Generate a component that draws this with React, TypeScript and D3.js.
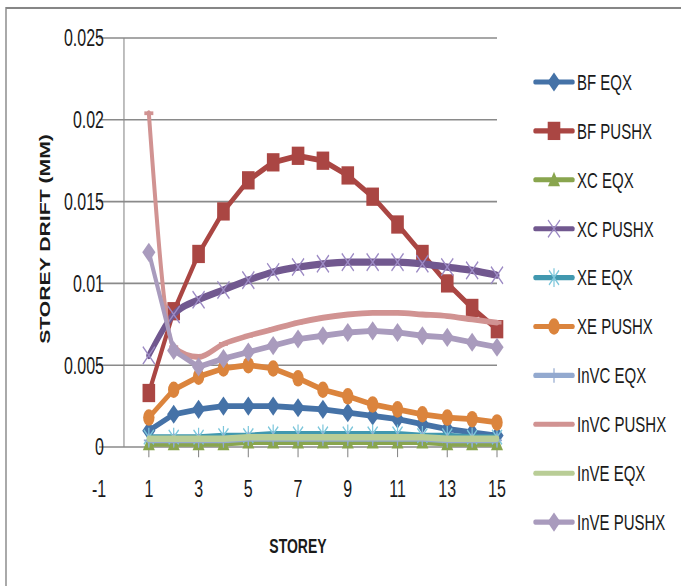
import React from 'react';
import * as d3 from 'd3';

const storeys = [1, 2, 3, 4, 5, 6, 7, 8, 9, 10, 11, 12, 13, 14, 15];
const xTicks = [-1, 1, 3, 5, 7, 9, 11, 13, 15];
const yTicks = [0, 0.005, 0.01, 0.015, 0.02, 0.025];
const yTickLabels = ['0', '0.005', '0.01', '0.015', '0.02', '0.025'];

const bfEqx = [0.0010, 0.0020, 0.0023, 0.0025, 0.0025, 0.0025, 0.0024, 0.0023, 0.0021, 0.0019, 0.0017, 0.0014, 0.0011, 0.0009, 0.0007];
const bfPushx = [0.0033, 0.0083, 0.0118, 0.0144, 0.0163, 0.0174, 0.0178, 0.0175, 0.0166, 0.0153, 0.0136, 0.0118, 0.0100, 0.0085, 0.0072];
const xcEqx = [0.0002, 0.0002, 0.0002, 0.0002, 0.0003, 0.0003, 0.0003, 0.0003, 0.0003, 0.0003, 0.0003, 0.0003, 0.0002, 0.0002, 0.0002];
const xcPushx = [0.0056, 0.0081, 0.0090, 0.0096, 0.0102, 0.0107, 0.0110, 0.0112, 0.0113, 0.0113, 0.0113, 0.0112, 0.0110, 0.0108, 0.0105];
const xeEqx = [0.0006, 0.0006, 0.0006, 0.0007, 0.0007, 0.0008, 0.0008, 0.0008, 0.0008, 0.0008, 0.0008, 0.0007, 0.0007, 0.0006, 0.0006];
const xePushx = [0.0018, 0.0035, 0.0043, 0.0048, 0.0050, 0.0048, 0.0042, 0.0035, 0.0031, 0.0026, 0.0023, 0.0020, 0.0018, 0.0017, 0.0015];
const invcEqx = [0.0004, 0.0004, 0.0004, 0.0004, 0.0005, 0.0005, 0.0005, 0.0005, 0.0005, 0.0005, 0.0005, 0.0005, 0.0004, 0.0004, 0.0004];
const invcPushx = [0.0204, 0.0061, 0.0055, 0.0063, 0.0068, 0.0072, 0.0076, 0.0079, 0.0081, 0.0082, 0.0082, 0.0081, 0.0080, 0.0078, 0.0076];
const inveEqx = [0.0005, 0.0005, 0.0005, 0.0005, 0.0006, 0.0006, 0.0006, 0.0006, 0.0006, 0.0006, 0.0006, 0.0006, 0.0005, 0.0005, 0.0005];
const invePushx = [0.0119, 0.0059, 0.0049, 0.0054, 0.0058, 0.0062, 0.0066, 0.0068, 0.0070, 0.0071, 0.0070, 0.0068, 0.0067, 0.0064, 0.0061];

const seriesNames = ['BF EQX', 'BF PUSHX', 'XC EQX', 'XC PUSHX', 'XE EQX', 'XE PUSHX', 'InVC EQX', 'InVC PUSHX', 'InVE EQX', 'InVE PUSHX'];
const seriesValues = [bfEqx, bfPushx, xcEqx, xcPushx, xeEqx, xePushx, invcEqx, invcPushx, inveEqx, invePushx];
const seriesColors = ['#4572A7', '#AA4643', '#89A54E', '#71588F', '#4198AF', '#DB843D', '#93A9CF', '#D19392', '#B9CD96', '#A99BBD'];
const markerLight = ['#4572A7', '#AA4643', '#89A54E', '#9C8AC4', '#7CC6DB', '#DB843D', '#93A9CF', '#D19392', '#B9CD96', '#A99BBD'];
const seriesMarkers = ['diamond', 'square', 'triangle', 'x', 'star', 'circle', 'plus', 'dash', 'none', 'diamond'];
const seriesSmooth = [false, false, false, true, false, false, false, true, false, false];
const seriesWidth = [4, 4, 4, 5, 4, 4, 4, 4, 4.5, 4];

const SY = 1.45;
const FONT = "'Liberation Sans', Arial, sans-serif";

function Marker({ kind, cx, cy, color, light }: { kind: string; cx: number; cy: number; color: string; light: string }) {
  const t = `translate(${cx},${cy})`;
  switch (kind) {
    case 'diamond':
      return <path transform={t} d="M0,-6.6L6.6,0L0,6.6L-6.6,0Z" fill={color} />;
    case 'square':
      return <rect transform={t} x={-6.3} y={-6.3} width={12.6} height={12.6} fill={color} />;
    case 'triangle':
      return <path transform={t} d="M0,-5.5L6,4.5L-6,4.5Z" fill={color} />;
    case 'x':
      return <path transform={t} d="M-6,-6L6,6M-6,6L6,-6" stroke={light} strokeWidth={1.2} fill="none" />;
    case 'star':
      return <path transform={t} d="M-5,-5L5,5M-5,5L5,-5M0,-6.5L0,6.5" stroke={light} strokeWidth={1.2} fill="none" />;
    case 'circle':
      return <circle transform={t} r={5.7} fill={color} />;
    case 'plus':
      return <path transform={t} d="M-5,0H5M0,-5V5" stroke={light} strokeWidth={1.2} fill="none" />;
    case 'dash':
      return <rect transform={t} x={-4.5} y={-1.3} width={9} height={2.6} fill={color} />;
    default:
      return null;
  }
}

export default function App() {
  const x = d3.scaleLinear().domain([-1, 15]).range([99.1, 497]);
  const y = d3.scaleLinear().domain([0, 0.025]).range([447 / SY, 38 / SY]);

  const legendY0 = 82 / SY;
  const legendStep = 48.9 / SY;

  return (
    <svg width={681} height={586} style={{ position: 'absolute', left: 0, top: 0, background: '#fff' }}>
      <g transform={`scale(1,${SY})`} fontFamily={FONT}>
        <rect x={6} y={8 / SY} width={720} height={620} fill="#fff" stroke="#868686" strokeWidth={1.4} />
        {yTicks.map((v) => (
          <line key={'g' + v} x1={x(-1)} x2={x(15)} y1={y(v)} y2={y(v)} stroke="#8a8a8a" strokeWidth={1.1} />
        ))}
        <line x1={x(0)} x2={x(0)} y1={y(0)} y2={y(0.025)} stroke="#8a8a8a" strokeWidth={1.1} />
        {xTicks.filter((v) => v > 0).map((v) => (
          <line key={'t' + v} x1={x(v)} x2={x(v)} y1={y(0)} y2={y(0) + 7} stroke="#8a8a8a" strokeWidth={1.1} />
        ))}
        {yTicks.map((v, i) => (
          <text key={'yl' + v} x={104} y={y(v)} dy="0.36em" textAnchor="end" fontSize={16} fill="#1a1a1a">
            {yTickLabels[i]}
          </text>
        ))}
        {xTicks.map((v) => (
          <text key={'xl' + v} x={x(v)} y={343} textAnchor="middle" fontSize={16} fill="#1a1a1a">
            {String(v)}
          </text>
        ))}
        <text transform={`translate(50,${239 / SY}) rotate(-90)`} textAnchor="middle" fontSize={14.6} fontWeight="bold" fill="#1a1a1a">
          STOREY DRIFT (MM)
        </text>
        <text x={298} y={381.5} textAnchor="middle" fontSize={14} fontWeight="bold" fill="#1a1a1a">
          STOREY
        </text>

        {seriesValues.map((vals, si) => {
          const line = d3
            .line<number>()
            .x((_, i) => x(storeys[i]))
            .y((d) => y(d))
            .curve(seriesSmooth[si] ? d3.curveMonotoneX : d3.curveLinear);
          return (
            <g key={'s' + si}>
              <path d={line(vals) || ''} fill="none" stroke={seriesColors[si]} strokeWidth={seriesWidth[si]} strokeLinejoin="round" strokeLinecap="round" />
              {vals.map((v, i) => (
                <Marker key={i} kind={seriesMarkers[si]} cx={x(storeys[i])} cy={y(v)} color={seriesColors[si]} light={markerLight[si]} />
              ))}
            </g>
          );
        })}

        {seriesNames.map((name, si) => {
          const ly = legendY0 + si * legendStep;
          return (
            <g key={'l' + si}>
              <line x1={535} x2={573} y1={ly} y2={ly} stroke={seriesColors[si]} strokeWidth={3.5} strokeLinecap="round" />
              <Marker kind={seriesMarkers[si]} cx={554} cy={ly} color={seriesColors[si]} light={markerLight[si]} />
              <text x={577} y={ly} dy="0.36em" fontSize={15} fill="#1a1a1a">
                {name}
              </text>
            </g>
          );
        })}
      </g>
    </svg>
  );
}
